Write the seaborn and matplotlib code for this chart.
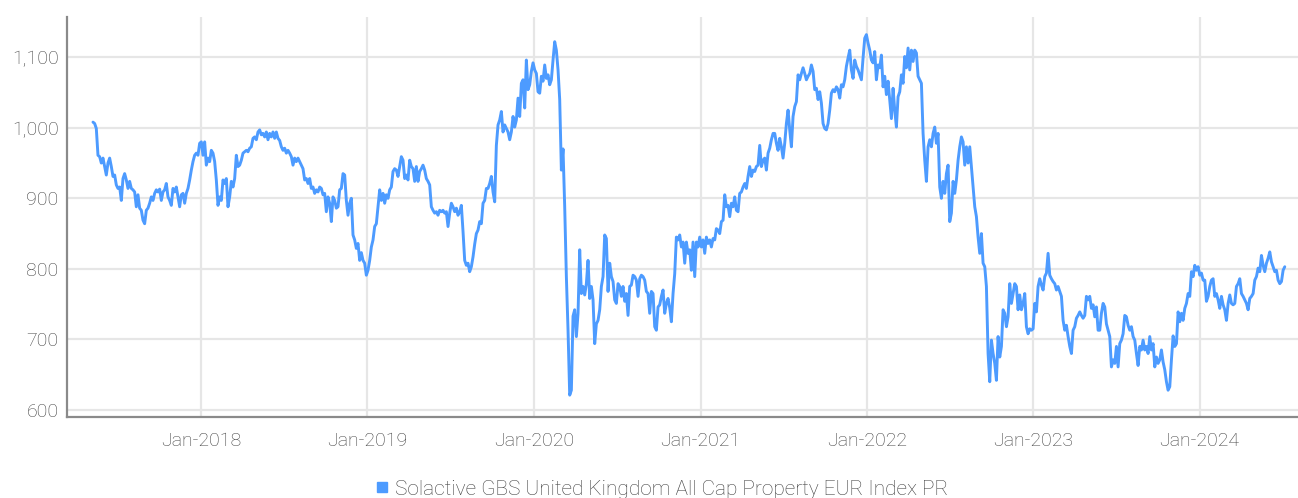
import numpy as np
import pandas as pd
import matplotlib
matplotlib.use('Agg')
import matplotlib.pyplot as plt
import matplotlib.dates as mdates
from matplotlib.ticker import FuncFormatter
from matplotlib.lines import Line2D
import seaborn as sns

# ---------------- data ----------------
series_name = 'Solactive GBS United Kingdom All Cap Property EUR Index PR'
start_date = '2017-05-09'
end_date = '2024-07-06'
index_values = [
    1008, 1006, 999, 961, 959, 950, 957, 945, 933, 950,
    957, 945, 931, 933, 919, 914, 916, 897, 928, 935,
    926, 914, 924, 914, 912, 909, 888, 905, 886, 883,
    869, 864, 883, 886, 893, 902, 897, 907, 912, 909,
    913, 897, 909, 912, 921, 902, 897, 890, 914, 909,
    916, 902, 888, 905, 907, 893, 907, 914, 926, 940,
    952, 961, 964, 961, 978, 980, 961, 980, 947, 957,
    952, 968, 964, 952, 926, 890, 902, 897, 926, 921,
    928, 888, 902, 924, 916, 928, 961, 945, 947, 954,
    964, 966, 968, 966, 971, 973, 985, 987, 983, 994,
    997, 990, 992, 987, 994, 983, 992, 987, 994, 985,
    994, 985, 982, 973, 968, 971, 964, 968, 964, 959,
    947, 957, 952, 957, 952, 947, 942, 926, 928, 921,
    928, 914, 916, 907, 912, 909, 916, 914, 905, 907,
    881, 902, 893, 867, 902, 897, 886, 888, 912, 914,
    935, 933, 897, 876, 893, 900, 848, 841, 829, 836,
    812, 823, 812, 808, 791, 798, 812, 831, 841, 860,
    864, 888, 912, 897, 907, 893, 905, 900, 912, 916,
    938, 942, 940, 931, 945, 959, 954, 928, 933, 926,
    954, 945, 942, 924, 945, 924, 938, 942, 947, 940,
    928, 924, 919, 888, 883, 879, 881, 876, 883, 881,
    883, 879, 881, 860, 879, 893, 888, 881, 886, 876,
    881, 890, 853, 812, 805, 808, 796, 803, 817, 835,
    850, 855, 867, 864, 893, 897, 914, 914, 921, 931,
    909, 895, 975, 1004, 1011, 1023, 994, 1004, 999, 994,
    983, 994, 1016, 1001, 1011, 1042, 1016, 1063, 1068, 1028,
    1096, 1054, 1061, 1080, 1092, 1082, 1077, 1051, 1049, 1073,
    1066, 1089, 1070, 1075, 1061, 1068, 1096, 1122, 1110, 1082,
    1040, 940, 970, 888, 789, 713, 621, 628, 733, 742,
    704, 737, 827, 765, 775, 763, 779, 812, 758, 775,
    756, 694, 722, 727, 742, 775, 789, 848, 843, 768,
    808, 789, 782, 756, 751, 779, 775, 761, 775, 754,
    765, 734, 775, 777, 791, 789, 784, 761, 786, 791,
    789, 784, 768, 765, 737, 768, 765, 718, 713, 746,
    749, 761, 770, 737, 751, 758, 745, 725, 765, 793,
    845, 841, 848, 831, 838, 808, 838, 822, 827, 798,
    838, 789, 838, 831, 845, 831, 841, 822, 845, 836,
    841, 831, 843, 841, 857, 855, 850, 867, 869, 905,
    888, 890, 874, 893, 888, 902, 883, 881, 907, 909,
    916, 921, 914, 931, 945, 931, 940, 938, 945, 947,
    975, 945, 954, 957, 940, 964, 971, 983, 992, 992,
    978, 968, 985, 973, 957, 978, 1006, 1025, 997, 973,
    1016, 1030, 1037, 1075, 1068, 1077, 1085, 1077, 1068, 1073,
    1077, 1089, 1080, 1054, 1056, 1040, 1051, 1035, 1006, 999,
    997, 1006, 1025, 1049, 1054, 1051, 1058, 1054, 1042, 1061,
    1058, 1068, 1087, 1099, 1110, 1082, 1070, 1096, 1087, 1082,
    1075, 1068, 1099, 1127, 1132, 1120, 1110, 1096, 1092, 1108,
    1068, 1089, 1085, 1103, 1058, 1073, 1047, 1066, 1040, 1013,
    1056, 1025, 1001, 1044, 1051, 1075, 1063, 1101, 1085, 1113,
    1082, 1110, 1094, 1110, 1106, 1073, 1068, 1063, 992, 954,
    924, 973, 983, 973, 992, 1001, 978, 992, 916, 900,
    924, 907, 935, 947, 867, 879, 924, 907, 926, 954,
    973, 987, 980, 947, 973, 950, 973, 945, 916, 888,
    874, 845, 822, 850, 808, 803, 775, 680, 640, 699,
    680, 666, 642, 704, 675, 690, 742, 737, 718, 732,
    779, 751, 765, 779, 775, 742, 763, 742, 751, 765,
    718, 708, 715, 713, 715, 751, 739, 775, 786, 777,
    770, 789, 794, 822, 791, 786, 782, 779, 770, 775,
    768, 761, 727, 713, 720, 704, 690, 680, 713, 718,
    730, 734, 739, 734, 730, 734, 761, 756, 761, 744,
    749, 732, 746, 713, 713, 737, 751, 746, 722, 713,
    704, 661, 671, 666, 690, 661, 694, 699, 708, 734,
    732, 720, 713, 718, 704, 699, 680, 663, 690, 685,
    699, 685, 690, 680, 704, 685, 694, 661, 675, 666,
    671, 685, 668, 657, 640, 628, 633, 671, 705, 690,
    694, 739, 725, 737, 727, 744, 751, 765, 761, 796,
    789, 805, 798, 803, 791, 794, 784, 784, 754, 761,
    775, 784, 786, 761, 765, 756, 744, 761, 749, 742,
    727, 751, 763, 751, 749, 751, 775, 779, 786, 765,
    761, 756, 751, 742, 758, 761, 765, 784, 789, 801,
    796, 819, 805, 796, 808, 815, 824, 810, 803, 796,
    798, 784, 779, 782, 798, 803,
]
y_ticks = [600, 700, 800, 900, 1000, 1100]
x_tick_dates = ['2018-01-01', '2019-01-01', '2020-01-01', '2021-01-01',
                '2022-01-01', '2023-01-01', '2024-01-01']
x_limits = ('2017-03-13', '2024-08-04')
y_limits = (590, 1157)

# ---------------- style ----------------
line_color = '#4d9bff'
text_color = '#404040'
grid_color = '#e6e6e6'
spine_color = '#8a8a8a'

sns.set_theme(style='white')
plt.rcParams['font.family'] = ['Roboto', 'DejaVu Sans']
plt.rcParams['font.weight'] = 'light'

dates = pd.date_range(start_date, end_date, periods=len(index_values))
df = pd.DataFrame({'Date': dates, 'Value': index_values})

W, H = 1298, 498
fig = plt.figure(figsize=(W / 100, H / 100), dpi=100)
ax = fig.add_axes([67 / W, 1 - 417 / H, 1 - 67 / W, 400 / H])

sns.lineplot(data=df, x='Date', y='Value', ax=ax, color=line_color,
             linewidth=2.1, legend=False, zorder=3)

ax.set_xlim(pd.Timestamp(x_limits[0]), pd.Timestamp(x_limits[1]))
ax.set_ylim(*y_limits)
ax.set_yticks(y_ticks)
ax.yaxis.set_major_formatter(FuncFormatter(lambda v, p: f'{v:,.0f}'))
ax.set_xticks(pd.to_datetime(x_tick_dates))
ax.xaxis.set_major_formatter(mdates.DateFormatter('%b-%Y'))

ax.set_axisbelow(True)
ax.grid(True, color=grid_color, linewidth=1.6)
for s in ['top', 'right']:
    ax.spines[s].set_visible(False)
for s in ['left', 'bottom']:
    ax.spines[s].set_color(spine_color)
    ax.spines[s].set_linewidth(1.6)
    ax.spines[s].set_zorder(4)

ax.tick_params(axis='both', length=0, labelsize=14, labelcolor=text_color)
ax.tick_params(axis='y', pad=6)
ax.tick_params(axis='x', pad=11)
for lab in ax.get_xticklabels() + ax.get_yticklabels():
    lab.set_fontweight('light')
ax.set_xlabel('')
ax.set_ylabel('')

handle = Line2D([], [], marker='s', linestyle='none', color=line_color,
                markersize=7)
fig.legend(handles=[handle], labels=[series_name], loc='center',
           bbox_to_anchor=(662 / W, 1 - 489 / H), frameon=False,
           handlelength=0.6, handletextpad=0.3,
           prop={'size': 15, 'weight': 'light'},
           labelcolor=text_color, borderpad=0, borderaxespad=0)

fig.savefig('out.png', dpi=100)
